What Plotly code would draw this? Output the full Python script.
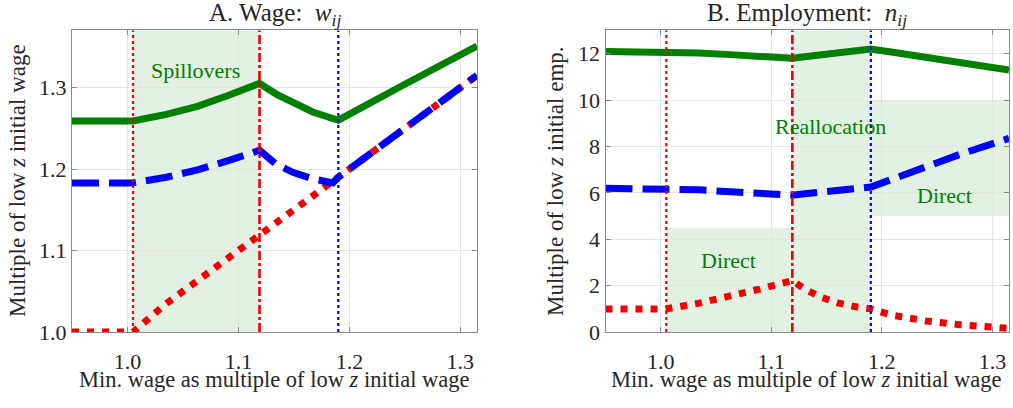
import plotly.graph_objects as go

# Minimum wage, as a multiple of the low-z initial wage (panel A grid)
x_wage = [0.95, 1.005, 1.035, 1.063, 1.09, 1.119, 1.134, 1.149, 1.167, 1.185, 1.19,
          1.25, 1.315]

# Panel A: wages relative to the low-z initial wage
wage_high = [1.259, 1.259, 1.267, 1.277, 1.290, 1.305, 1.292, 1.281, 1.270, 1.262,
             1.260, 1.304, 1.351]
wage_mid = [1.183, 1.183, 1.190, 1.199, 1.210, 1.223, 1.206, 1.196, 1.188, 1.183,
            1.19, 1.25, 1.315]
wage_low = [1.0, 1.0, 1.035, 1.063, 1.09, 1.119, 1.134, 1.149, 1.167, 1.185,
            1.19, 1.25, 1.315]

# Panel B: employment relative to low-z initial employment
x_emp = [0.95, 1.005, 1.035, 1.063, 1.09, 1.119, 1.13, 1.145, 1.16, 1.175, 1.19,
         1.21, 1.24, 1.27, 1.315]
emp_high = [12.1, 12.1, 12.03, 11.96, 11.88, 11.8, 11.87, 11.96, 12.05, 12.13, 12.2,
            12.06, 11.84, 11.62, 11.3]
emp_mid = [6.2, 6.2, 6.13, 6.05, 5.98, 5.9, 5.96, 6.03, 6.1, 6.17, 6.25,
           6.6, 7.15, 7.65, 8.35]
emp_low = [1.0, 1.0, 1.25, 1.54, 1.86, 2.22, 1.86, 1.5, 1.26, 1.1, 1.0,
           0.72, 0.48, 0.32, 0.16]

# Reference minimum-wage levels marked by vertical lines
mw_low, mw_mid, mw_high = 1.005, 1.119, 1.19

x_ticks = [1.0, 1.1, 1.2, 1.3]
x_tick_text = ["1.0", "1.1", "1.2", "1.3"]
yA_ticks = [1.0, 1.1, 1.2, 1.3]
yA_tick_text = ["1.0", "1.1", "1.2", "1.3"]
yB_ticks = [0, 2, 4, 6, 8, 10, 12]

GREEN, BLUE, RED = "#008000", "#0000ff", "#f00000"
FONT = "Liberation Serif"
TXT = "#262626"
W, H = 1013, 408

fig = go.Figure()


def add_series(x, y, xa, ya, color, dash, width):
    fig.add_trace(go.Scatter(
        x=x, y=y, xaxis=xa, yaxis=ya, mode="lines",
        line=dict(color=color, width=width, dash=dash),
        showlegend=False, hoverinfo="skip"))


# Panel A lines
add_series(x_wage, wage_high, "x", "y", GREEN, "solid", 7)
add_series(x_wage, wage_low, "x", "y", RED, "7px,8px", 7)
add_series(x_wage, wage_mid, "x", "y", BLUE, "27px,10px", 7)
# Panel B lines
add_series(x_emp, emp_high, "x2", "y2", GREEN, "solid", 7)
add_series(x_emp, emp_low, "x2", "y2", RED, "7px,8px", 7)
add_series(x_emp, emp_mid, "x2", "y2", BLUE, "27px,10px", 7)

shade = "rgba(0,128,0,0.11)"
shapes = [
    # Spillover region in panel A
    dict(type="rect", xref="x", yref="y domain", x0=mw_low, x1=mw_mid, y0=0, y1=1,
         fillcolor=shade, line_width=0, layer="below"),
    # Direct / reallocation regions in panel B
    dict(type="rect", xref="x2", yref="y2", x0=mw_low, x1=mw_mid, y0=0, y1=4.5,
         fillcolor=shade, line_width=0, layer="below"),
    dict(type="rect", xref="x2", yref="y2 domain", x0=mw_mid, x1=mw_high, y0=0, y1=1,
         fillcolor=shade, line_width=0, layer="below"),
    dict(type="rect", xref="x2", yref="y2", x0=mw_high, x1=1.315, y0=5, y1=10,
         fillcolor=shade, line_width=0, layer="below"),
]
for xa in ("x", "x2"):
    ya = "y" if xa == "x" else "y2"
    for xv, col, dsh, wd in [(mw_low, RED, "dot", 2.2), (mw_mid, RED, "dashdot", 2.6),
                             (mw_high, BLUE, "dot", 2.2)]:
        shapes.append(dict(type="line", xref=xa, yref=ya + " domain", x0=xv, x1=xv,
                           y0=0, y1=1, line=dict(color=col, width=wd, dash=dsh),
                           layer="above"))

ann = []


def label(text, x, y, xref="paper", yref="paper", size=22, color=TXT, angle=0):
    ann.append(dict(text=text, x=x, y=y, xref=xref, yref=yref, showarrow=False,
                    font=dict(family=FONT, size=size, color=color),
                    textangle=angle, xanchor="center", yanchor="middle"))


label("A. Wage:  <i>w</i><sub><i>ij</i></sub>", 275 / W, 1 - 15 / H, size=25)
label("B. Employment:  <i>n</i><sub><i>ij</i></sub>", 807 / W, 1 - 15 / H, size=25)
label("Min. wage as multiple of low <i>z</i> initial wage", 274 / W, 1 - 392 / H, size=22.5)
label("Min. wage as multiple of low <i>z</i> initial wage", 806 / W, 1 - 392 / H, size=22.5)
label("Multiple of low <i>z</i> initial wage", 17 / W, 1 - 187 / H, size=23, angle=-90)
label("Multiple of low <i>z</i> initial emp.", 555 / W, 1 - 187 / H, size=23, angle=-90)
label("Spillovers", 1.061, 1.321, "x", "y", color=GREEN)
label("Reallocation", 1.1535, 8.85, "x2", "y2", color=GREEN)
label("Direct", 1.257, 5.9, "x2", "y2", color=GREEN)
label("Direct", 1.061, 3.08, "x2", "y2", color=GREEN)

axis_common = dict(
    showgrid=True, gridcolor="#e4e4e4", gridwidth=1, zeroline=False,
    showline=True, linecolor="#8a8a8a", linewidth=1, mirror="ticks",
    ticks="inside", ticklen=5, tickcolor="#8a8a8a",
    tickfont=dict(family=FONT, size=22, color=TXT),
)
x_common = dict(axis_common, ticklabelstandoff=10, range=[0.95, 1.315],
                tickvals=x_ticks, ticktext=x_tick_text)
y_dom = [(408 - 343) / H, (408 - 31.5) / H]

fig.update_layout(
    width=W, height=H, margin=dict(l=0, r=0, t=0, b=0),
    paper_bgcolor="white", plot_bgcolor="white",
    font=dict(family=FONT, color=TXT),
    xaxis=dict(x_common, domain=[72 / W, 477 / W], anchor="y"),
    yaxis=dict(axis_common, domain=y_dom, range=[1.0, 1.37],
               tickvals=yA_ticks, ticktext=yA_tick_text, anchor="x"),
    xaxis2=dict(x_common, domain=[605.5 / W, 1009 / W], anchor="y2"),
    yaxis2=dict(axis_common, domain=y_dom, range=[0, 13],
                tickvals=yB_ticks, anchor="x2"),
    shapes=shapes, annotations=ann,
)

fig.write_html("out.html")
